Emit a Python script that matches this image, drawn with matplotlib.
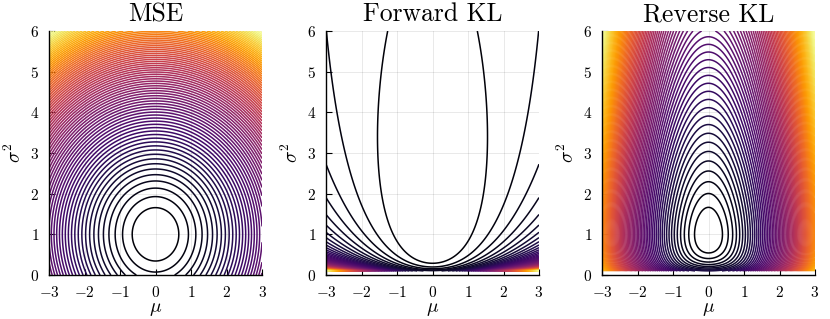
import numpy as np
import matplotlib
matplotlib.use("Agg")
import matplotlib.pyplot as plt

plt.rcParams['font.family'] = 'serif'
plt.rcParams['font.serif'] = ['cmr10', 'DejaVu Serif']
plt.rcParams['mathtext.fontset'] = 'cm'
plt.rcParams['axes.formatter.use_mathtext'] = True
plt.rcParams['axes.unicode_minus'] = True

# ---- data / settings ----
titles = ["MSE", "Forward KL", "Reverse KL"]
mu_limits = [-3.0, 3.0]
sigma2_limits = [0.0, 6.0]
sigma2_grid_start = [0.0, 0.1, 0.1]   # KL surfaces undefined at sigma^2 = 0
n_levels = 80
x_ticks = [-3, -2, -1, 0, 1, 2, 3]
y_ticks = [0, 1, 2, 3, 4, 5, 6]
target_mu = 0.0
target_sigma2 = 1.0


def mse(mu, s2):
    return (mu - target_mu) ** 2 + (s2 - target_sigma2) ** 2


def forward_kl(mu, s2):
    return 0.5 * np.log(s2 / target_sigma2) + (target_sigma2 + (mu - target_mu) ** 2) / (2 * s2) - 0.5


def reverse_kl(mu, s2):
    return 0.5 * np.log(target_sigma2 / s2) + (s2 + (mu - target_mu) ** 2) / (2 * target_sigma2) - 0.5


funcs = [mse, forward_kl, reverse_kl]

fig = plt.figure(figsize=(8.30, 3.19), dpi=100)
lefts = [49 / 830, 326 / 830, 602 / 830]
width = 213 / 830
bottom = 44 / 319
height = 244 / 319

for i in range(3):
    ax = fig.add_axes([lefts[i], bottom, width, height])
    mu = np.linspace(mu_limits[0], mu_limits[1], 500)
    s2 = np.linspace(sigma2_grid_start[i], sigma2_limits[1], 500)
    M, S = np.meshgrid(mu, s2)
    Z = funcs[i](M, S)
    levels = np.linspace(Z.min(), Z.max(), n_levels)[1:]
    ax.contour(M, S, Z, levels=levels, cmap='inferno', linewidths=1.1,
               vmin=Z.min(), vmax=Z.max())
    ax.set_xlim(mu_limits)
    ax.set_ylim(sigma2_limits)
    ax.set_xticks(x_ticks)
    ax.set_yticks(y_ticks)
    ax.grid(True, color='#000000', alpha=0.1, linewidth=0.6)
    ax.set_axisbelow(True)
    for side in ['top', 'right']:
        ax.spines[side].set_visible(False)
    for side in ['left', 'bottom']:
        ax.spines[side].set_linewidth(1.0)
        ax.spines[side].set_color('black')
    ax.tick_params(direction='in', length=4, width=0.8, labelsize=11, pad=7)
    ax.set_title(titles[i], fontsize=18.5, pad=7)
    ax.set_xlabel(r'$\mu$', fontsize=14, labelpad=0)
    ax.set_ylabel(r'$\sigma^2$', fontsize=14, labelpad=4)

fig.savefig("out.png", dpi=100)
